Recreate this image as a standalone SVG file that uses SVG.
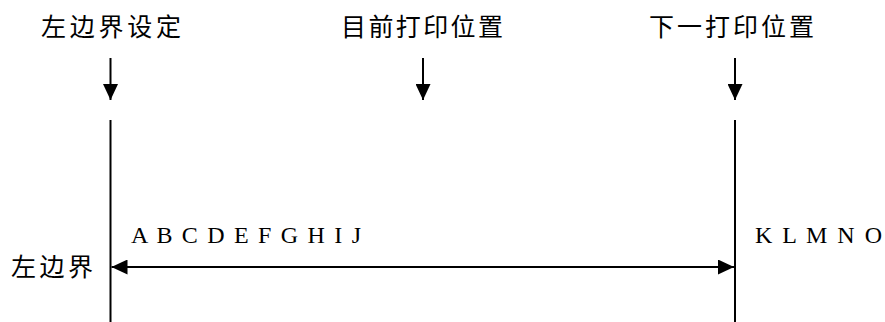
<svg xmlns="http://www.w3.org/2000/svg" width="885" height="322" viewBox="0 0 885 322">
<style>
.cjk{font-family:"Noto Sans CJK SC","Noto Sans CJK JP",sans-serif;font-size:25px;fill:#000}
.lat{font-family:"Liberation Serif","Times New Roman",serif;font-size:24px;fill:#000}
.ln{stroke:#000;stroke-width:2;fill:none}
</style>
<defs>
<marker id="ah" viewBox="0 0 16 15" refX="16" refY="7.5" markerWidth="16" markerHeight="15" markerUnits="userSpaceOnUse" orient="auto-start-reverse">
<path d="M0,0 L16,7.5 L0,15 Z" fill="#000"/>
</marker>
</defs>
<rect width="885" height="322" fill="#fff"/>
<g id="label-left-set"><text class="cjk" x="41" y="36" textLength="140" lengthAdjust="spacing">左边界设定</text></g>
<g id="label-current"><text class="cjk" x="341" y="36" textLength="162" lengthAdjust="spacing">目前打印位置</text></g>
<g id="label-next"><text class="cjk" x="649" y="36" textLength="165" lengthAdjust="spacing">下一打印位置</text></g>
<g id="label-left"><text class="cjk" x="11" y="276" textLength="82" lengthAdjust="spacing">左边界</text></g>
<g id="text-a-j"><text class="lat" x="131" y="243" textLength="230" lengthAdjust="spacing">A B C D E F G H I J</text></g>
<g id="text-k-o"><text class="lat" x="755" y="243" textLength="127" lengthAdjust="spacing">K L M N O</text></g>
<g id="connectors">
<line class="ln" x1="110.5" y1="58" x2="110.5" y2="100" marker-end="url(#ah)"/>
<line class="ln" x1="423" y1="58" x2="423" y2="100" marker-end="url(#ah)"/>
<line class="ln" x1="735" y1="58" x2="735" y2="100" marker-end="url(#ah)"/>
<line class="ln" x1="110.5" y1="120" x2="110.5" y2="322"/>
<line class="ln" x1="735" y1="120" x2="735" y2="322"/>
<line class="ln" x1="111.5" y1="267" x2="734" y2="267" marker-start="url(#ah)" marker-end="url(#ah)"/>
</g>
</svg>
